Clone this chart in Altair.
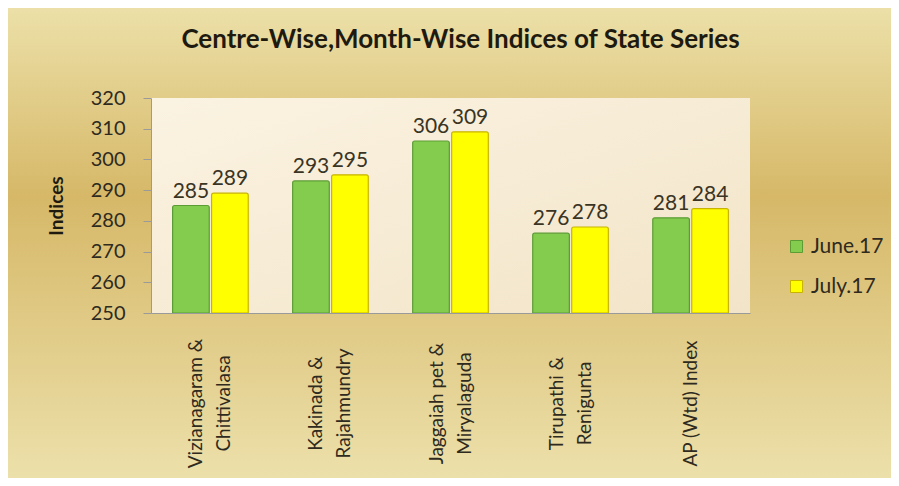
import altair as alt
import pandas as pd

centres = ["Vizianagaram &|Chittivalasa", "Kakinada &|Rajahmundry", "Jaggaiah pet &|Miryalaguda",
           "Tirupathi &|Renigunta", "AP (Wtd) Index"]
june = [285, 293, 306, 276, 281]
july = [289, 295, 309, 278, 284]
series = ["June.17", "July.17"]
colors = ["#84cc4e", "#ffff00"]
strokes = ["#5c9c34", "#c8b400"]

rows = []
for c, a, b in zip(centres, june, july):
    rows.append({"centre": c, "series": series[0], "value": a})
    rows.append({"centre": c, "series": series[1], "value": b})
df = pd.DataFrame(rows)

FONT = "Lato"
W, H = 599, 215

xenc = alt.X("centre:N", sort=centres, title=None,
             scale=alt.Scale(paddingInner=0.37, paddingOuter=0.18),
             axis=alt.Axis(labelExpr="split(datum.label, '|')", labelAngle=270, labelAlign="center",
                           labelBaseline="middle", labelPadding=90, labelFontSize=19, labelLineHeight=28,
                           labelOffset={"condition": {"test": "indexof(datum.label, '|') >= 0", "value": -14},
                                        "value": 0},
                           labelFont=FONT, labelColor="#2e2a20", ticks=False, domainColor="#9a9a9a",
                           labelLimit=300, zindex=2))
yenc = alt.Y("value:Q", title="Indices", scale=alt.Scale(domain=[250, 320], nice=False, zero=False),
             axis=alt.Axis(values=list(range(250, 321, 10)), grid=False, tickSize=8, tickColor="#9a9a9a",
                           domainColor="#9a9a9a", labelFontSize=20, labelFont=FONT, labelColor="#2e2a20",
                           labelPadding=18, labelOverlap=False, titleFont=FONT, titleFontSize=19,
                           titleFontWeight="bold", titleColor="#1e1a10", titlePadding=24, zindex=2))
xoff = alt.XOffset("series:N", sort=series, scale=alt.Scale(paddingInner=0.06))

bg = alt.Chart(pd.DataFrame({"k": [0]})).mark_rect(
    clip=False,
    fill=alt.Gradient(gradient="linear", x1=0, y1=0, x2=0, y2=1,
                      stops=[alt.GradientStop(offset=0, color="#ece0a8"),
                             alt.GradientStop(offset=0.4, color="#d6b868"),
                             alt.GradientStop(offset=1, color="#ece0aa")])
).encode(x=alt.value(-143), x2=alt.value(W + 141), y=alt.value(-90), y2=alt.value(H + 165))

plotbg = alt.Chart(pd.DataFrame({"k": [0]})).mark_rect(
    fill=alt.Gradient(gradient="linear", x1=0, y1=0, x2=1, y2=1,
                      stops=[alt.GradientStop(offset=0, color="#fbf3e2"),
                             alt.GradientStop(offset=1, color="#f2e4c8")])
).encode(x=alt.value(0), x2=alt.value(W), y=alt.value(0), y2=alt.value(H))

bars = alt.Chart(df).mark_bar(strokeWidth=1.2, cornerRadiusTopLeft=2, cornerRadiusTopRight=2).encode(
    x=xenc, xOffset=xoff, y=yenc, y2=alt.datum(250),
    fill=alt.Fill("series:N", sort=series, scale=alt.Scale(domain=series, range=colors),
                  legend=alt.Legend(title=None, orient="none", legendX=635, legendY=138,
                                    symbolType="square", symbolSize=144, symbolStrokeWidth=1,
                                    labelFont=FONT, labelFontSize=21, labelColor="#2e2a20",
                                    rowPadding=18, zindex=2)),
    stroke=alt.Stroke("series:N", sort=series, scale=alt.Scale(domain=series, range=strokes), legend=None),
)

labels = alt.Chart(df).mark_text(dy=-14, fontSize=21, font=FONT, color="#3a3424").encode(
    x=xenc, xOffset=xoff, y=yenc, text=alt.Text("value:Q"))

chart = alt.layer(bg, plotbg, bars, labels).properties(
    width=W, height=H,
    title=alt.TitleParams("Centre-Wise,Month-Wise Indices of State Series", font=FONT, fontSize=26,
                          fontWeight="bold", color="#1e1a10", offset=-45, dx=10, zindex=2,
                          frame="group", anchor="middle"),
    autosize=alt.AutoSizeParams(type="none"),
    padding={"left": 143, "right": 141, "top": 90, "bottom": 165},
).configure_view(stroke=None).configure(background="#e0cc88")

chart.save("out.html", embed_options={"renderer": "svg", "actions": False})
